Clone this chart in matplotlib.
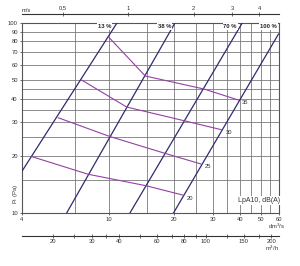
import matplotlib
matplotlib.use("Agg")
import matplotlib.pyplot as plt
from matplotlib.ticker import FixedLocator, NullLocator, NullFormatter

plt.rcParams['font.family'] = ['Liberation Sans', 'DejaVu Sans']

# Damper opening lines (dm3/s, Pa)
damper_labels = ['13 %', '38 %', '70 %', '100 %']
damper_q = [[4.0, 10.9], [6.41, 20.1], [12.5, 40.9], [19.8, 60.0]]
damper_p = [[16.6, 100.0], [10.0, 100.0], [10.0, 100.0], [10.0, 87.5]]
damper_label_q = [9.6, 18.0, 36.0, 54.0]

# Sound level curves LpA10 dB(A)
sound_levels = ['20', '25', '30', '35']
q20 = [4.44, 8.03, 14.9, 22.0]
p20 = [19.8, 16.0, 13.9, 12.4]
q25 = [5.87, 10.08, 18.1, 26.5]
p25 = [31.7, 25.3, 20.6, 18.1]
q30 = [7.51, 12.09, 22.4, 33.0]
p30 = [50.1, 36.1, 30.5, 27.4]
q35 = [9.95, 14.7, 27.4, 39.3]
p35 = [84.7, 52.6, 44.9, 39.3]

x_ticks = [4, 10, 20, 30, 40, 50, 60]
x_grid = [7, 10, 15, 20, 25, 30, 35, 40, 45, 50, 55]
y_ticks = [10, 20, 30, 40, 50, 60, 70, 80, 90, 100]
y_grid = [15, 20, 25, 30, 35, 40, 45, 50, 60, 70, 80, 90]
v_ticks = [0.5, 1, 2, 3, 4]
v_labels = ['0,5', '1', '2', '3', '4']
m3h_ticks = [20, 25, 30, 35, 40, 50, 60, 70, 80, 90, 100, 125, 150, 175, 200]
m3h_labeled = [20, 30, 40, 60, 80, 100, 150, 200]

AREA = 12.27  # dm3/s per m/s (duct 125 mm)

navy = '#2e2c6e'
purple = '#9440a4'
grid_c = '#7a7a7a'
fs = 4.2

fig = plt.figure(figsize=(3.0, 2.66), dpi=100)
ax = fig.add_axes([22/300, 1-213/266, 256.5/300, 190/266])
ax.set_xscale('log')
ax.set_yscale('log')
ax.set_xlim(4, 60)
ax.set_ylim(10, 100)

for g in x_grid:
    ax.axvline(g, color=grid_c, lw=0.6, zorder=1)
for g in y_grid:
    ax.axhline(g, color=grid_c, lw=0.6, zorder=1)
for s in ax.spines.values():
    s.set_color('#555555')
    s.set_linewidth(0.8)

ax.xaxis.set_major_locator(FixedLocator(x_ticks))
ax.xaxis.set_minor_locator(NullLocator())
ax.set_xticklabels([str(t) for t in x_ticks])
ax.yaxis.set_major_locator(FixedLocator(y_ticks))
ax.yaxis.set_minor_locator(NullLocator())
ax.set_yticklabels([str(t) for t in y_ticks])
ax.tick_params(axis='both', labelsize=fs, length=1.5, width=0.5, pad=1.5, colors='#333333')

for q, p in zip(damper_q, damper_p):
    ax.plot(q, p, color=navy, lw=0.9, zorder=3)
for lab, lq in zip(damper_labels, damper_label_q):
    ax.text(lq, 96, lab, fontsize=fs, fontweight='bold', ha='center', va='center',
            color='#222222', zorder=4,
            bbox=dict(boxstyle='square,pad=0.15', fc='white', ec='none'))

for lab, q, p in zip(sound_levels, [q20, q25, q30, q35], [p20, p25, p30, p35]):
    ax.plot(q, p, color=purple, lw=0.8, zorder=3)
    ax.annotate(lab, (q[-1], p[-1]), xytext=(2.5, -2), textcoords='offset points',
                fontsize=fs, ha='left', va='center', color='#333333', zorder=5)

ax.text(49, 11.7, 'LpA10, dB(A)', fontsize=5, ha='center', va='center', color='#333333',
        zorder=5, bbox=dict(boxstyle='square,pad=0.15', fc='white', ec='none'))

fig.text(277/300, 1-226/266, 'dm$^3$/s', fontsize=fs, ha='center', va='center', color='#333333')
fig.text(15/300, 1-194/266, 'P$_t$ (Pa)', fontsize=fs, rotation=90, ha='center', va='center',
         color='#333333')

# top velocity axis
top = ax.secondary_xaxis((213-14)/190, functions=(lambda q: q/AREA, lambda v: v*AREA))
top.xaxis.set_major_locator(FixedLocator(v_ticks))
top.xaxis.set_minor_locator(NullLocator())
top.set_xticklabels(v_labels)
top.tick_params(labelsize=fs, length=3, width=0.5, direction='inout', pad=1, colors='#333333')
top.spines['top'].set_linewidth(0.8)
top.spines['top'].set_color('#333333')
fig.text(26/300, 1-10/266, 'm/s', fontsize=fs, ha='center', va='center', color='#333333')

# bottom m3/h axis
bot = ax.secondary_xaxis((213-236)/190, functions=(lambda q: q*3.6, lambda m: m/3.6))
bot.xaxis.set_major_locator(FixedLocator(m3h_ticks))
bot.xaxis.set_minor_locator(NullLocator())
bot.set_xticklabels([str(t) if t in m3h_labeled else '' for t in m3h_ticks])
bot.tick_params(labelsize=fs, length=3, width=0.5, direction='inout', pad=1, colors='#333333')
bot.spines['bottom'].set_linewidth(0.8)
bot.spines['bottom'].set_color('#333333')
fig.text(272/300, 1-248/266, 'm$^3$/h', fontsize=fs, ha='center', va='center', color='#333333')

fig.savefig('out.png', dpi=100)
